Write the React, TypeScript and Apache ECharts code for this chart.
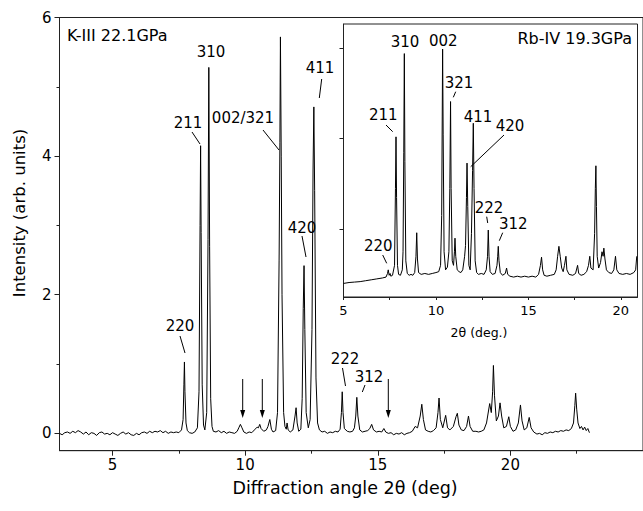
import React, { useEffect, useRef } from "react";
import * as echarts from "echarts";

// K-III 22.1 GPa main pattern: [2theta (deg), intensity (arb. units)]
const kIIITrace: [number, number][] = [
  [3.0, 0.0], [3.1, -0.02], [3.2, 0.01], [3.3, 0.02], [3.4, 0.0], [3.5, 0.03], [3.6, 0.01], [3.7, 0.04],
  [3.8, 0.02], [3.9, -0.01], [4.0, 0.02], [4.1, -0.02], [4.2, 0.01], [4.3, 0.0], [4.4, -0.03], [4.5, 0.01],
  [4.6, 0.02], [4.7, -0.01], [4.8, 0.0], [4.9, -0.02], [5.0, 0.01], [5.1, -0.01], [5.2, -0.03], [5.3, 0.0],
  [5.4, 0.02], [5.5, -0.01], [5.6, 0.01], [5.7, -0.02], [5.8, -0.03], [5.9, 0.0], [6.0, -0.02], [6.1, 0.01],
  [6.2, 0.02], [6.3, 0.0], [6.4, 0.03], [6.5, 0.01], [6.6, 0.03], [6.7, 0.02], [6.8, 0.04], [6.9, 0.01],
  [7.0, 0.03], [7.1, 0.0], [7.2, 0.02], [7.3, 0.01], [7.4, 0.02], [7.5, 0.01], [7.6, 0.05],
  [7.66, 0.2], [7.69, 0.7], [7.71, 1.03], [7.73, 0.6], [7.77, 0.15], [7.82, 0.04], [7.9, 0.01], [8.0, 0.0],
  [8.1, 0.02], [8.2, 0.08],
  [8.26, 0.6], [8.3, 3.0], [8.32, 4.15], [8.34, 2.9], [8.38, 0.7], [8.43, 0.12], [8.48, 0.05],
  [8.55, 0.3], [8.6, 2.8], [8.63, 5.28], [8.66, 2.7], [8.7, 0.5], [8.75, 0.1], [8.8, 0.03],
  [8.9, 0.02], [9.0, 0.04], [9.1, 0.01], [9.2, 0.03], [9.3, 0.0], [9.4, 0.02], [9.5, 0.01], [9.6, 0.0], [9.7, 0.03],
  [9.76, 0.08], [9.82, 0.13], [9.88, 0.08], [9.95, 0.02], [10.05, 0.0], [10.15, 0.02], [10.25, 0.01],
  [10.35, 0.05], [10.45, 0.09], [10.5, 0.08], [10.55, 0.13], [10.6, 0.07], [10.7, 0.03], [10.8, 0.05],
  [10.86, 0.1], [10.93, 0.2], [10.99, 0.06], [11.05, 0.02], [11.15, 0.04],
  [11.22, 0.3], [11.28, 2.5], [11.31, 4.2], [11.33, 5.72], [11.36, 4.0], [11.39, 2.0], [11.45, 0.3],
  [11.5, 0.1], [11.55, 0.06], [11.58, 0.15], [11.62, 0.05], [11.7, 0.02], [11.8, 0.05], [11.88, 0.25],
  [11.92, 0.37], [11.96, 0.15], [12.02, 0.03], [12.1, 0.06],
  [12.15, 0.5], [12.19, 1.8], [12.22, 2.42], [12.25, 1.5], [12.3, 0.3], [12.38, 0.08], [12.45, 0.2],
  [12.52, 1.5], [12.56, 3.8], [12.59, 4.71], [12.62, 3.5], [12.67, 0.8], [12.73, 0.15], [12.8, 0.05],
  [12.9, 0.02], [13.0, 0.03], [13.1, 0.0], [13.2, 0.02], [13.3, 0.01], [13.4, 0.03], [13.5, 0.02], [13.58, 0.06],
  [13.63, 0.3], [13.66, 0.6], [13.69, 0.3], [13.74, 0.07], [13.85, 0.03], [13.95, 0.02], [14.05, 0.03], [14.12, 0.08],
  [14.17, 0.25], [14.21, 0.52], [14.25, 0.25], [14.32, 0.05], [14.42, 0.02], [14.52, 0.03], [14.62, 0.04],
  [14.7, 0.07], [14.77, 0.13], [14.84, 0.05], [14.95, 0.02], [15.05, 0.03], [15.15, 0.02], [15.23, 0.07],
  [15.3, 0.02], [15.4, 0.0], [15.5, 0.01], [15.6, -0.02], [15.7, 0.0], [15.8, -0.01], [15.9, 0.01], [16.0, -0.02],
  [16.1, 0.0], [16.2, 0.01], [16.3, 0.03], [16.41, 0.1], [16.5, 0.08], [16.6, 0.25], [16.66, 0.42], [16.72, 0.2],
  [16.8, 0.05], [16.9, 0.03], [17.0, 0.02], [17.1, 0.04], [17.2, 0.08], [17.27, 0.3], [17.31, 0.51], [17.36, 0.2],
  [17.45, 0.08], [17.56, 0.26], [17.63, 0.08], [17.72, 0.05], [17.85, 0.1], [17.95, 0.24], [18.0, 0.29],
  [18.06, 0.12], [18.15, 0.05], [18.25, 0.04], [18.35, 0.1], [18.42, 0.25], [18.48, 0.1], [18.58, 0.03],
  [18.7, 0.03], [18.8, 0.02], [18.9, 0.03], [19.0, 0.05], [19.1, 0.15], [19.22, 0.43], [19.28, 0.3],
  [19.33, 0.6], [19.36, 0.98], [19.4, 0.55], [19.47, 0.18], [19.55, 0.25], [19.61, 0.44], [19.67, 0.25],
  [19.75, 0.08], [19.85, 0.1], [19.94, 0.24], [20.0, 0.1], [20.1, 0.03], [20.2, 0.05], [20.3, 0.15],
  [20.38, 0.41], [20.44, 0.18], [20.52, 0.05], [20.62, 0.08], [20.71, 0.23], [20.78, 0.08], [20.88, 0.02],
  [21.0, -0.01], [21.1, 0.0], [21.2, -0.02], [21.3, 0.01], [21.4, 0.0], [21.5, 0.02], [21.6, 0.01], [21.7, 0.03],
  [21.8, 0.02], [21.9, 0.04], [22.0, 0.03], [22.1, 0.05], [22.2, 0.04], [22.3, 0.07], [22.38, 0.15],
  [22.43, 0.4], [22.46, 0.58], [22.5, 0.35], [22.55, 0.15], [22.62, 0.07], [22.68, 0.1], [22.74, 0.05],
  [22.8, 0.09], [22.86, 0.04], [22.92, 0.07], [22.98, 0.01],
];

// Rb-IV 19.3 GPa inset pattern: [2theta (deg), intensity (arb. units)]
const rbIVTrace: [number, number][] = [
  [5.0, 0.15], [5.3, 0.16], [5.6, 0.165], [5.9, 0.17], [6.2, 0.18], [6.5, 0.19], [6.8, 0.2], [7.1, 0.21], [7.3, 0.22],
  [7.38, 0.26], [7.42, 0.3], [7.47, 0.24], [7.52, 0.26], [7.56, 0.23], [7.65, 0.24],
  [7.76, 0.35], [7.81, 1.2], [7.84, 1.77], [7.87, 1.1], [7.92, 0.35], [7.98, 0.25], [8.08, 0.24], [8.18, 0.3],
  [8.22, 0.5], [8.26, 1.6], [8.29, 2.69], [8.32, 1.5], [8.37, 0.4], [8.45, 0.26], [8.55, 0.24], [8.65, 0.25],
  [8.75, 0.24], [8.85, 0.27],
  [8.92, 0.45], [8.96, 0.71], [9.0, 0.42], [9.06, 0.27], [9.2, 0.25], [9.4, 0.26], [9.6, 0.25], [9.8, 0.26],
  [10.0, 0.27], [10.15, 0.28], [10.25, 0.35],
  [10.31, 0.9], [10.34, 2.0], [10.36, 2.74], [10.39, 1.8], [10.44, 0.5], [10.52, 0.3], [10.62, 0.33], [10.7, 0.5],
  [10.75, 1.2], [10.79, 2.16], [10.82, 1.2], [10.88, 0.4], [10.95, 0.35],
  [11.0, 0.5], [11.03, 0.65], [11.07, 0.45], [11.15, 0.3], [11.25, 0.28], [11.35, 0.27], [11.45, 0.3], [11.55, 0.45],
  [11.6, 0.57], [11.65, 1.1], [11.68, 1.48], [11.72, 1.0], [11.78, 0.35], [11.85, 0.3], [11.92, 0.7],
  [11.98, 1.4], [12.02, 1.92], [12.06, 1.2], [12.12, 0.4], [12.2, 0.27], [12.3, 0.25], [12.45, 0.26], [12.6, 0.25],
  [12.72, 0.3], [12.79, 0.45], [12.83, 0.74], [12.87, 0.45], [12.93, 0.28], [13.05, 0.25], [13.2, 0.26], [13.3, 0.35],
  [13.34, 0.45], [13.37, 0.56], [13.41, 0.4], [13.48, 0.27], [13.6, 0.24], [13.75, 0.26], [13.82, 0.32], [13.88, 0.25],
  [14.0, 0.23], [14.2, 0.22], [14.4, 0.23], [14.6, 0.22], [14.8, 0.23], [15.0, 0.22], [15.2, 0.23], [15.4, 0.22],
  [15.55, 0.25], [15.65, 0.35], [15.71, 0.44], [15.77, 0.3], [15.85, 0.24], [16.0, 0.23], [16.2, 0.24], [16.4, 0.25],
  [16.5, 0.3], [16.58, 0.45], [16.65, 0.56], [16.72, 0.45], [16.8, 0.32], [16.88, 0.28], [16.95, 0.35], [17.03, 0.45],
  [17.08, 0.3], [17.2, 0.25], [17.4, 0.24], [17.55, 0.26], [17.66, 0.35], [17.72, 0.26], [17.85, 0.24], [18.0, 0.25],
  [18.15, 0.28], [18.25, 0.35], [18.32, 0.45], [18.38, 0.32], [18.5, 0.3], [18.58, 0.7], [18.62, 1.2], [18.65, 1.45],
  [18.68, 1.0], [18.72, 0.45], [18.8, 0.32], [18.9, 0.38], [18.98, 0.5], [19.04, 0.45], [19.08, 0.54], [19.14, 0.42],
  [19.22, 0.3], [19.35, 0.27], [19.5, 0.26], [19.62, 0.3], [19.71, 0.45], [19.78, 0.3], [19.9, 0.26], [20.1, 0.25],
  [20.3, 0.26], [20.5, 0.25], [20.7, 0.27], [20.8, 0.3], [20.86, 0.45],
];

// Tick values
const mainXTicks = [5, 10, 15, 20, 25];
const mainXLabels = [5, 10, 15, 20];
const mainXMinor = [7.5, 12.5, 17.5, 22.5];
const mainYTicks = [0, 2, 4, 6];
const mainYMinor = [1, 3, 5];
const insetXTicks = [5, 7.5, 10, 12.5, 15, 17.5, 20];
const insetXLabels = [5, 10, 15, 20];
const insetYTicks = [0.75, 1.75, 2.75];

const FONT = "DejaVu Sans, Liberation Sans, Arial, sans-serif";
const AX = "#222";

export default function App() {
  const ref = useRef<HTMLDivElement>(null);
  useEffect(() => {
    if (!ref.current) return;
    const chart = echarts.init(ref.current, null, { renderer: "svg" });

    const label = (text: string, x: number, y: number, size = 15, align = "center") => ({
      type: "text",
      x,
      y,
      style: { text, fill: "#000", font: `${size}px ${FONT}`, textAlign: align, textVerticalAlign: "middle" },
      z: 100,
    });
    const seg = (x1: number, y1: number, x2: number, y2: number) => ({
      type: "line",
      shape: { x1, y1, x2, y2 },
      style: { stroke: "#000", lineWidth: 1 },
      z: 100,
    });
    const arrow = (x: number) => [
      seg(x, 379, x, 412),
      {
        type: "polygon",
        shape: { points: [[x - 2.5, 410], [x + 2.5, 410], [x, 418]] },
        style: { fill: "#000" },
        z: 100,
      },
    ];

    const graphics: any[] = [
      // main annotations
      label("K-III 22.1GPa", 67, 35, 16, "left"),
      label("310", 211, 52),
      label("211", 188, 123),
      seg(192, 132, 200, 144),
      label("002/321", 243, 118),
      seg(263, 130, 279, 150),
      label("411", 320, 68),
      seg(321.7, 79, 319.3, 98),
      label("420", 302, 228),
      seg(302, 236, 306, 257),
      label("220", 180, 326),
      seg(180, 336, 185, 353),
      label("222", 345, 359),
      seg(342.5, 368, 345.5, 386),
      label("312", 369, 377),
      seg(365, 385, 362.3, 392),
      ...arrow(242.7),
      ...arrow(262.3),
      ...arrow(388.3),
      // inset annotations
      label("Rb-IV 19.3GPa", 632, 38, 16, "right"),
      label("310", 405, 41.7),
      label("002", 443.3, 41),
      label("321", 459, 83.3),
      seg(455.7, 91.7, 453.3, 97.3),
      label("211", 383.3, 115),
      seg(386, 125, 392.7, 131.7),
      label("411", 478, 116.7),
      label("420", 510, 126),
      seg(504, 135, 470.7, 166.7),
      label("222", 489, 208),
      seg(486.7, 216.7, 487.7, 223),
      label("312", 513.3, 224),
      seg(502.7, 232.7, 499.3, 240.7),
      label("220", 378.3, 246),
      seg(382.7, 255, 386.7, 263.3),
      // axis titles
      {
        type: "text",
        x: 19,
        y: 213,
        rotation: Math.PI / 2,
        style: { text: "Intensity (arb. units)", fill: "#000", font: `16.5px ${FONT}`, textAlign: "center", textVerticalAlign: "middle" },
      },
      label("Diffraction angle 2θ (deg)", 345, 488, 17.5),
      label("2θ (deg.)", 479, 332, 12.5),
    ];

    const tickStyle = { color: AX, width: 1 };

    chart.setOption({
      animation: false,
      backgroundColor: "#fff",
      grid: [
        { left: 59.5, top: 17.5, width: 591.8, height: 433.2, show: true, borderColor: AX, borderWidth: 1, backgroundColor: "transparent" },
        { left: 343.5, top: 24, width: 294, height: 273, show: true, borderColor: AX, borderWidth: 1, backgroundColor: "#fff", z: 5 },
      ],
      xAxis: [
        {
          type: "value", gridIndex: 0, min: 3, max: 25, position: "bottom",
          axisLine: { show: true, onZero: false, lineStyle: { color: AX } },
          axisTick: { show: true, customValues: mainXTicks, length: 5, lineStyle: tickStyle },
          axisLabel: { customValues: mainXLabels, fontSize: 15, fontFamily: FONT, color: "#000", margin: 7 },
          splitLine: { show: false },
        },
        {
          type: "value", gridIndex: 0, min: 3, max: 25, position: "bottom",
          axisLine: { show: false, onZero: false },
          axisTick: { show: true, customValues: mainXMinor, length: 3, lineStyle: tickStyle },
          axisLabel: { show: false },
          splitLine: { show: false },
        },
        {
          type: "value", gridIndex: 1, min: 5, max: 20.9, position: "bottom",
          axisLine: { show: true, onZero: false, lineStyle: { color: AX } },
          axisTick: { show: true, customValues: insetXTicks, length: 3, lineStyle: tickStyle },
          axisLabel: { customValues: insetXLabels, fontSize: 13, fontFamily: FONT, color: "#000", margin: 7 },
          splitLine: { show: false },
        },
      ],
      yAxis: [
        {
          type: "value", gridIndex: 0, min: -0.25, max: 6, position: "left",
          axisLine: { show: true, onZero: false, lineStyle: { color: AX } },
          axisTick: { show: true, customValues: mainYTicks, length: 5, lineStyle: tickStyle },
          axisLabel: { customValues: mainYTicks, fontSize: 15, fontFamily: FONT, color: "#000", margin: 8 },
          splitLine: { show: false },
        },
        {
          type: "value", gridIndex: 0, min: -0.25, max: 6, position: "left",
          axisLine: { show: false, onZero: false },
          axisTick: { show: true, customValues: mainYMinor, length: 3, lineStyle: tickStyle },
          axisLabel: { show: false },
          splitLine: { show: false },
        },
        {
          type: "value", gridIndex: 1, min: 0, max: 3.017, position: "left",
          axisLine: { show: true, onZero: false, lineStyle: { color: AX } },
          axisTick: { show: true, customValues: insetYTicks, length: 4, lineStyle: tickStyle },
          axisLabel: { show: false },
          splitLine: { show: false },
        },
      ],
      series: [
        {
          name: "K-III 22.1GPa", type: "line", xAxisIndex: 0, yAxisIndex: 0, data: kIIITrace,
          showSymbol: false, symbol: "none", lineStyle: { color: "#000", width: 1 }, z: 3,
        },
        {
          name: "Rb-IV 19.3GPa", type: "line", xAxisIndex: 2, yAxisIndex: 2, data: rbIVTrace,
          showSymbol: false, symbol: "none", lineStyle: { color: "#000", width: 1 }, z: 6,
        },
      ],
      graphic: graphics,
    });
    return () => chart.dispose();
  }, []);
  return <div ref={ref} style={{ position: "fixed", left: 0, top: 0, width: 643, height: 511 }} />;
}
